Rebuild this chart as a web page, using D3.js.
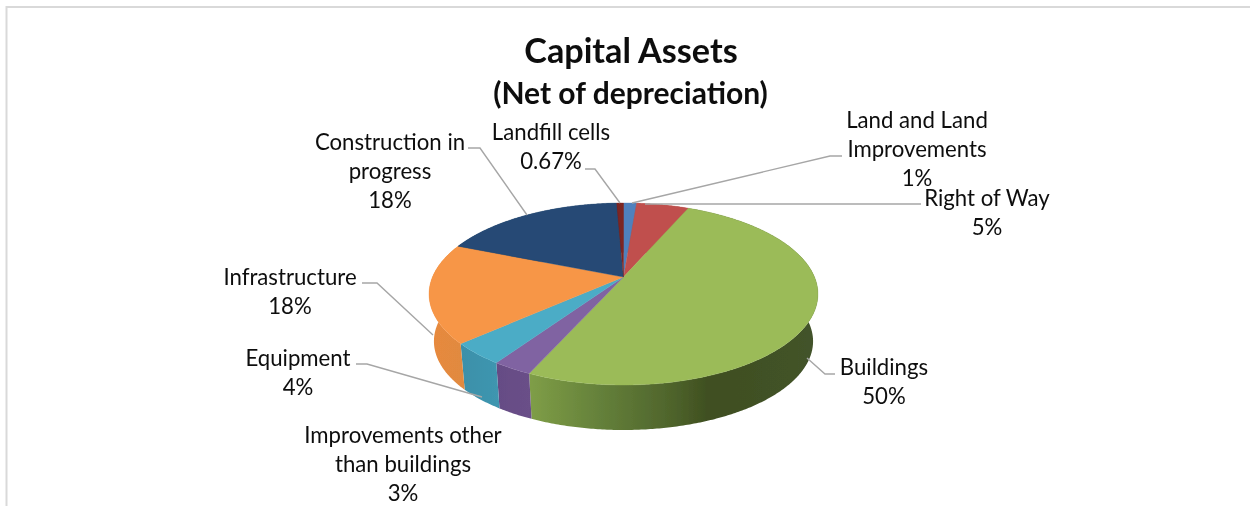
<!DOCTYPE html>
<html>
<head>
<meta charset="utf-8">
<script src="https://cdn.jsdelivr.net/npm/d3@7"></script>
<style>
html,body{margin:0;padding:0;background:#fff;overflow:hidden}
svg{display:block}
text{font-family:Lato,"Open Sans",sans-serif;fill:#0d0d0d}
</style>
</head>
<body>
<svg id="c" width="1250" height="506"></svg>
<script>
// Data (pie order, clockwise from 12 o'clock)
const categories = ["Land and Land Improvements","Right of Way","Buildings","Improvements other than buildings","Equipment","Infrastructure","Construction in progress","Landfill cells"];
const values = [1.3,5.2,50.2,2.8,3.9,17.7,18.2,0.67];
const labels = ["1%","5%","50%","3%","4%","18%","18%","0.67%"];
const topColors = ["#4f81bd","#c0504d","#9bbb59","#8064a2","#4bacc6","#f79646","#254a75","#7b2522"];
const titleLines = ["Capital Assets","(Net of depreciation)"];

// Layout
const W=1250,H=506;
const view={cx:623.5,cy:277,a:191,b:87.8,k:0.187,depth:47.7,shrink:0.975};
const labelLayout=[
 {lines:["Land and Land","Improvements"],x:917,y:128,lead:[[842,156],[830,156],[632,203]]},
 {lines:["Right of Way"],x:987,y:206,lead:[[921,204],[645,204]]},
 {lines:["Buildings"],x:884,y:375,lead:[[835,374],[825,374],[807,358]]},
 {lines:["Improvements other","than buildings"],x:403,y:442.5,lead:null},
 {lines:["Equipment"],x:298,y:366,lead:[[356,364],[367,364],[482,397]]},
 {lines:["Infrastructure"],x:290,y:285,lead:[[362,283],[377,283],[433,335]]},
 {lines:["Construction in","progress"],x:390,y:150,lead:[[468,148],[480,148],[527,215]]},
 {lines:["Landfill cells"],x:551,y:140,lead:[[585,169],[595,169],[620,203]]}
];
const sideStops={
 "Buildings":[[0,"#7f9e47"],[0.25,"#64803a"],[0.5,"#4e632b"],[0.62,"#3f4f20"],[1,"#43532a"]],
 "Improvements other than buildings":[[0,"#654c85"],[1,"#6a4f88"]],
 "Equipment":[[0,"#3b90a9"],[1,"#3f96b0"]],
 "Infrastructure":[[0,"#e8893e"],[1,"#e08a3f"]]
};

const svg=d3.select("#c");
const defs=svg.append("defs");
defs.append("filter").attr("id","soft").attr("x","-5%").attr("y","-5%").attr("width","110%").attr("height","110%")
  .append("feGaussianBlur").attr("stdDeviation",0.6);
defs.append("filter").attr("id","softT").attr("x","-5%").attr("y","-20%").attr("width","110%").attr("height","140%")
  .append("feGaussianBlur").attr("stdDeviation",0.3);

// chart frame: top and left edges only
svg.append("path").attr("d",d3.line()([[W,7],[6.5,7],[6.5,H]])).attr("fill","none").attr("stroke","#d9d9d9").attr("stroke-width",2);

const color=d3.scaleOrdinal().domain(categories).range(topColors);
const pie=d3.pie().sort(null).value(d=>d.v).startAngle(0).endAngle(2*Math.PI);
const arcs=pie(categories.map((c,i)=>({c,v:values[i]})));

// perspective projection of a unit disc
function proj(t,bottom){
  const x=Math.sin(t),y=-Math.cos(t);
  const d=1-view.k*y;
  const s=bottom?view.shrink:1;
  return [view.cx+s*view.a*x/d, view.cy+(bottom?view.depth:0)+s*view.b*y/d];
}
function samples(a0,a1){
  const n=Math.max(2,Math.ceil((a1-a0)/0.01));
  return d3.range(n+1).map(i=>a0+(a1-a0)*i/n);
}
const line=d3.line();
const pieG=svg.append("g").attr("filter","url(#soft)");

// side walls first; the top faces cover whatever lies behind them
arcs.forEach((d,i)=>{
  const ts=samples(d.startAngle,d.endAngle);
  const pts=ts.map(t=>proj(t,false)).concat(ts.slice().reverse().map(t=>proj(t,true)));
  let fill=d3.color(topColors[i]).darker(0.5).formatHex();
  const st=sideStops[d.data.c];
  if(st){
    const xs=pts.map(p=>p[0]);
    const id="g"+i;
    const g=defs.append("linearGradient").attr("id",id).attr("gradientUnits","userSpaceOnUse")
      .attr("x1",d3.min(xs)).attr("x2",d3.max(xs)).attr("y1",0).attr("y2",0);
    st.forEach(s=>g.append("stop").attr("offset",s[0]).attr("stop-color",s[1]));
    fill=`url(#${id})`;
  }
  pieG.append("path").attr("d",line(pts)+"Z").attr("fill",fill);
});
// top faces
arcs.forEach(d=>{
  const pts=[[view.cx,view.cy]].concat(samples(d.startAngle,d.endAngle).map(t=>proj(t,false)));
  pieG.append("path").attr("d",line(pts)+"Z").attr("fill",color(d.data.c)).attr("stroke",color(d.data.c)).attr("stroke-width",0.4);
});

// leader lines
labelLayout.forEach(l=>{
  if(!l.lead)return;
  svg.append("path").attr("d",line(l.lead)).attr("fill","none").attr("stroke","#a6a6a6").attr("stroke-width",1.4);
});

// text
const textG=svg.append("g").attr("filter","url(#softT)");
textG.append("text").attr("x",631).attr("y",63).attr("text-anchor","middle").attr("font-weight",700).attr("font-size",34.2).text(titleLines[0]);
textG.append("text").attr("x",630.5).attr("y",103.5).attr("text-anchor","middle").attr("font-weight",700).attr("font-size",30).text(titleLines[1]);
labelLayout.forEach((l,i)=>{
  l.lines.concat([labels[i]]).forEach((s,j)=>{
    textG.append("text").attr("x",l.x).attr("y",l.y+j*29.2).attr("text-anchor","middle").attr("font-size",22.2).text(s);
  });
});
</script>
</body>
</html>
